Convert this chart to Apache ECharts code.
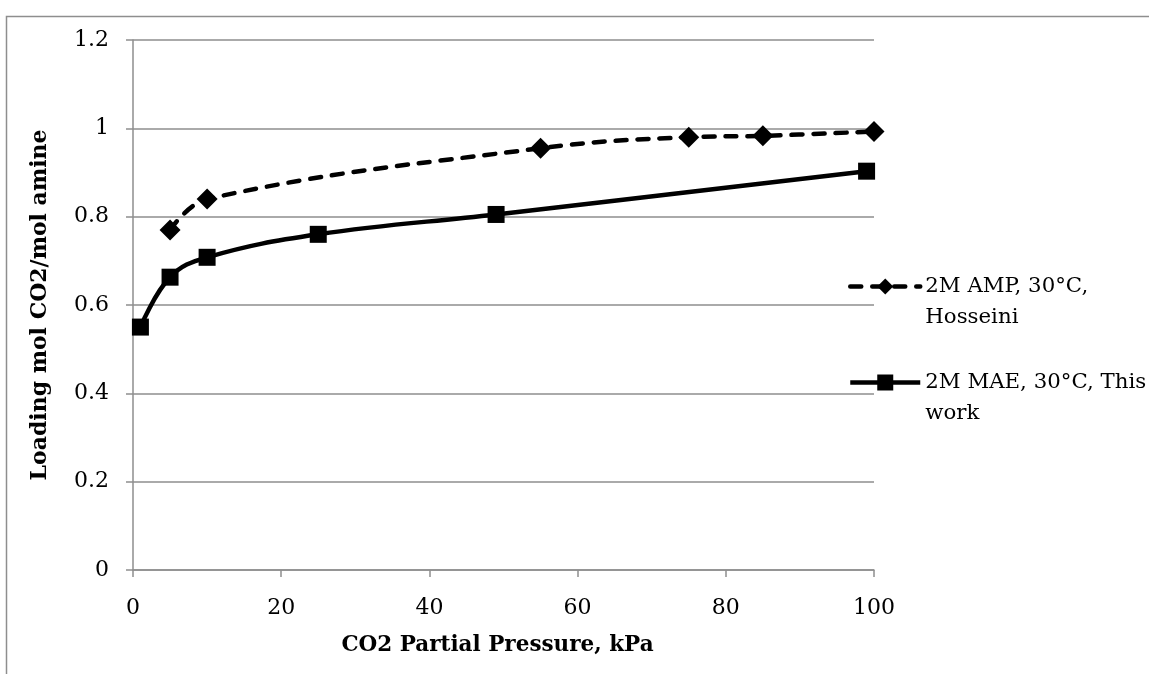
<!DOCTYPE html>
<html>
<head>
<meta charset="utf-8">
<script src="https://cdn.jsdelivr.net/npm/echarts@6/dist/echarts.min.js"></script>
<style>
html,body{margin:0;padding:0;background:#fff;}
#chart{width:1149px;height:674px;}
</style>
</head>
<body>
<div id="chart"></div>
<script>
// Data
const ampName = '2M AMP, 30°C, Hosseini';
const ampLegend = ' \n2M AMP, 30°C,\nHosseini';
const ampX = [5, 10, 55, 75, 85, 100];
const ampY = [0.77, 0.84, 0.955, 0.98, 0.983, 0.993];

const maeName = '2M MAE, 30°C, This work';
const maeLegend = ' \n2M MAE, 30°C, This\nwork';
const maeX = [1, 5, 10, 25, 49, 99];
const maeY = [0.55, 0.663, 0.708, 0.76, 0.805, 0.903];

const xTitle = 'CO2 Partial Pressure, kPa';
const yTitle = 'Loading mol CO2/mol amine';

const FONT = 'DejaVu Serif';
const GRAY = '#8e8e8e';

const legendText = {};
legendText[ampName] = ampLegend;
legendText[maeName] = maeLegend;

const chart = echarts.init(document.getElementById('chart'), null, {renderer: 'canvas'});
chart.setOption({
  animation: false,
  backgroundColor: '#ffffff',
  graphic: [{
    type: 'rect',
    left: 4, top: 14,
    shape: {width: 1300, height: 800},
    style: {fill: 'none', stroke: GRAY, lineWidth: 1.5},
    silent: true, z: -10
  }],
  grid: {left: 133, top: 40, right: 275, bottom: 104, containLabel: false},
  xAxis: {
    type: 'value', min: 0, max: 100, interval: 20,
    name: xTitle, nameLocation: 'middle', nameGap: 64,
    nameTextStyle: {fontFamily: FONT, fontWeight: 'bold', fontSize: 21.5, color: '#000', padding: [0, 12, 0, 0]},
    axisLine: {show: true, lineStyle: {color: GRAY, width: 1.5}},
    axisTick: {show: true, inside: false, length: 7, lineStyle: {color: GRAY, width: 1.5}},
    axisLabel: {fontFamily: FONT, fontSize: 22, color: '#000', margin: 27},
    splitLine: {show: false}
  },
  yAxis: {
    type: 'value', min: 0, max: 1.2, interval: 0.2,
    name: yTitle, nameLocation: 'middle', nameGap: 82,
    nameTextStyle: {fontFamily: FONT, fontWeight: 'bold', fontSize: 22, color: '#000'},
    axisLine: {show: true, lineStyle: {color: GRAY, width: 1.5}},
    axisTick: {show: true, inside: false, length: 7, lineStyle: {color: GRAY, width: 1.5}},
    axisLabel: {fontFamily: FONT, fontSize: 22, color: '#000', margin: 24,
      formatter: v => String(Math.round(v * 10) / 10)},
    splitLine: {show: true, lineStyle: {color: GRAY, width: 1.5}}
  },
  legend: {
    orient: 'vertical',
    left: 848, top: 240,
    padding: 0,
    itemGap: 3,
    itemWidth: 70, itemHeight: 20,
    formatter: n => legendText[n],
    lineStyle: {width: 4.5},
    textStyle: {fontFamily: FONT, fontSize: 21.3, color: '#000', lineHeight: 31},
    data: [ampName, maeName]
  },
  series: [
    {
      name: ampName, type: 'line', smooth: 0.4,
      data: ampX.map((x, i) => [x, ampY[i]]),
      symbol: 'diamond', symbolSize: 21,
      itemStyle: {color: '#000'},
      lineStyle: {color: '#000', width: 4.5, type: [11, 11], cap: 'round'},
      z: 3
    },
    {
      name: maeName, type: 'line', smooth: 0.4,
      data: maeX.map((x, i) => [x, maeY[i]]),
      symbol: 'rect', symbolSize: 17,
      itemStyle: {color: '#000'},
      lineStyle: {color: '#000', width: 4.5, type: 'solid'},
      z: 3
    }
  ]
});
</script>
</body>
</html>
